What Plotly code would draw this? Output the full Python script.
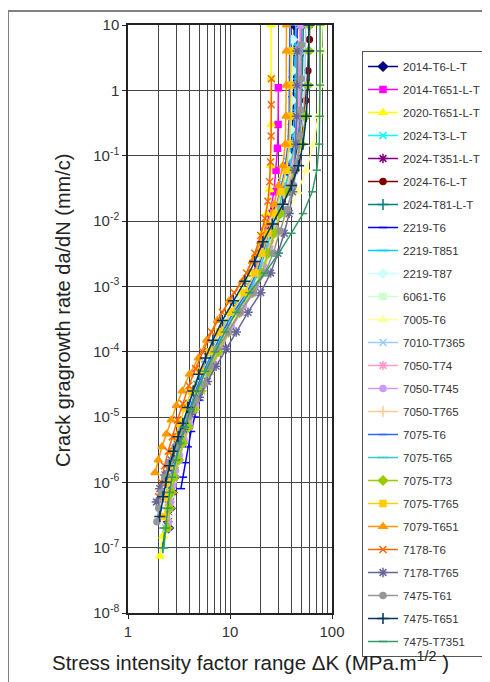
import plotly.graph_objects as go

# ---------------- data ----------------
series_names = ["2014-T6-L-T", "2014-T651-L-T", "2020-T651-L-T", "2024-T3-L-T", "2024-T351-L-T",
                "2024-T6-L-T", "2024-T81-L-T", "2219-T6", "2219-T851", "2219-T87", "6061-T6",
                "7005-T6", "7010-T7365", "7050-T74", "7050-T745", "7050-T765", "7075-T6",
                "7075-T65", "7075-T73", "7075-T765", "7079-T651", "7178-T6", "7178-T765",
                "7475-T61", "7475-T651", "7475-T7351"]

dK_2014_T6 = [2.5, 2.6, 2.72, 2.86, 3.1, 3.4, 3.75, 4.2, 4.8, 5.75, 7.1, 8.9, 11.5, 15.5, 19.2, 22, 24.8, 28, 32.5, 36.5, 40, 41.5, 42, 42.3, 42.5, 42.6]
da_2014_T6 = [2e-7, 4e-7, 7e-7, 1.2e-6, 2.2e-6, 4e-6, 7e-6, 1.3e-5, 2.5e-5, 5e-5, 1e-4, 2e-4, 4e-4, 8e-4, 1.6e-3, 3.2e-3, 6.5e-3, 1.3e-2, 2.8e-2, 6e-2, 0.15, 0.3, 0.8, 1.6, 4, 10]

dK_2014_T651 = [2.42, 2.52, 2.62, 2.76, 3.0, 3.3, 3.62, 4.05, 4.6, 5.4, 6.6, 8.2, 10.5, 14, 17, 19.5, 22, 24.5, 27, 28.3, 29.2, 29.6, 29.8]
da_2014_T651 = [2e-7, 4e-7, 7e-7, 1.2e-6, 2.2e-6, 4e-6, 7e-6, 1.3e-5, 2.5e-5, 5e-5, 1e-4, 2e-4, 4e-4, 8e-4, 1.6e-3, 3.2e-3, 7e-3, 1.3e-2, 2.8e-2, 6e-2, 0.13, 0.3, 1.1]

dK_2020_T651 = [2.06, 2.2, 2.32, 2.45, 2.6, 2.82, 3.1, 3.45, 3.85, 4.4, 5.2, 6.3, 7.8, 10, 13, 15.8, 18.3, 20.8, 23, 24.5, 25.1, 25.3, 25.3, 25.3]
da_2020_T651 = [7.4e-8, 1.5e-7, 3e-7, 6e-7, 1.1e-6, 2e-6, 4e-6, 7e-6, 1.3e-5, 2.5e-5, 5e-5, 1e-4, 2e-4, 4e-4, 8e-4, 1.6e-3, 3.2e-3, 6.5e-3, 1.3e-2, 3e-2, 7e-2, 0.3, 1.5, 10]

dK_2024_T3 = [2.35, 2.46, 2.57, 2.7, 2.95, 3.28, 3.65, 4.15, 4.8, 5.8, 7.2, 9.0, 11.6, 15.8, 19.8, 23, 26.5, 30.5, 35, 39.5, 43.5, 45.5, 46.5, 47]
da_2024_T3 = [2e-7, 4e-7, 7e-7, 1.2e-6, 2.2e-6, 4e-6, 7e-6, 1.3e-5, 2.5e-5, 5e-5, 1e-4, 2e-4, 4e-4, 8e-4, 1.6e-3, 3.2e-3, 6.5e-3, 1.3e-2, 2.8e-2, 6e-2, 0.15, 0.4, 1.2, 4]

dK_2024_T351 = [2.45, 2.55, 2.66, 2.8, 3.0, 3.3, 3.65, 4.15, 4.85, 5.9, 7.3, 9.2, 12, 16.5, 20, 22.5, 24, 27, 31.5, 36, 40, 44, 47, 49, 50]
da_2024_T351 = [2.5e-7, 5e-7, 9e-7, 1.5e-6, 2.5e-6, 4.5e-6, 8e-6, 1.5e-5, 3e-5, 6e-5, 1.2e-4, 2.4e-4, 5e-4, 1e-3, 2e-3, 4e-3, 7e-3, 1.4e-2, 3e-2, 7e-2, 0.16, 0.4, 1.2, 4, 10]

dK_2024_T6 = [2.5, 2.62, 2.74, 2.9, 3.12, 3.45, 3.85, 4.4, 5.2, 6.3, 7.9, 10, 13.2, 17.5, 21, 24.5, 28, 32.5, 38, 44, 50, 55, 58, 60, 60.5]
da_2024_T6 = [3e-7, 6e-7, 1e-6, 1.8e-6, 3e-6, 5.5e-6, 1e-5, 2e-5, 4e-5, 8e-5, 1.6e-4, 3.2e-4, 6.5e-4, 1.3e-3, 2.6e-3, 5e-3, 1e-2, 2e-2, 4.5e-2, 0.1, 0.25, 0.7, 2, 6, 10]

dK_2024_T81 = [2.2, 2.3, 2.42, 2.54, 2.68, 2.92, 3.22, 3.58, 4.05, 4.65, 5.6, 6.9, 8.6, 11.2, 15.2, 18.8, 21.8, 24.8, 28.5, 34, 40, 45.5, 49, 51, 52, 52.3]
da_2024_T81 = [1e-7, 2e-7, 4e-7, 7e-7, 1.2e-6, 2.2e-6, 4e-6, 7e-6, 1.3e-5, 2.5e-5, 5e-5, 1e-4, 2e-4, 4e-4, 8e-4, 1.6e-3, 3.2e-3, 6.5e-3, 1.3e-2, 2.8e-2, 6e-2, 0.15, 0.4, 1.2, 4, 10]

dK_2219_T6 = [3.3, 3.45, 3.62, 3.85, 4.15, 4.5, 5.0, 5.6, 6.5, 7.6, 9.0, 11.5, 15.5, 19.5, 22.5, 25.5, 29, 33.5, 38, 42, 44, 45, 45.3, 45.5]
da_2219_T6 = [8e-7, 1.2e-6, 2e-6, 3.5e-6, 6e-6, 1e-5, 1.8e-5, 3.2e-5, 6e-5, 1.1e-4, 2e-4, 4e-4, 8e-4, 1.6e-3, 3.2e-3, 6.5e-3, 1.3e-2, 2.8e-2, 6e-2, 0.15, 0.4, 1.2, 4, 10]

dK_2219_T851 = [2.4, 2.5, 2.62, 2.78, 3.0, 3.3, 3.7, 4.2, 4.9, 5.9, 7.3, 9.2, 12, 16.2, 19.8, 22.6, 25.5, 29, 33.5, 38, 41.5, 43, 43.8, 44, 44.1]
da_2219_T851 = [3e-7, 6e-7, 1e-6, 1.8e-6, 3.2e-6, 5.5e-6, 1e-5, 1.8e-5, 3.5e-5, 7e-5, 1.4e-4, 2.8e-4, 5.5e-4, 1.1e-3, 2.2e-3, 4.5e-3, 9e-3, 1.8e-2, 4e-2, 9e-2, 0.2, 0.5, 1.5, 5, 10]

dK_2219_T87 = [2.45, 2.56, 2.68, 2.84, 3.05, 3.38, 3.78, 4.35, 5.1, 6.2, 7.7, 9.8, 13, 17, 20.3, 23, 26, 29.5, 33.5, 37, 39.5, 40.5, 41, 41.2]
da_2219_T87 = [3e-7, 6e-7, 1e-6, 1.8e-6, 3e-6, 5.5e-6, 1e-5, 2e-5, 4e-5, 8e-5, 1.6e-4, 3.2e-4, 6.5e-4, 1.3e-3, 2.6e-3, 5e-3, 1e-2, 2e-2, 4.5e-2, 0.1, 0.25, 0.7, 2, 6]

dK_6061_T6 = [2.38, 2.49, 2.6, 2.74, 3.0, 3.32, 3.7, 4.2, 4.85, 5.8, 7.1, 8.8, 11.4, 15.4, 19, 21.8, 24.5, 27.8, 32, 35.8, 38.5, 39.5, 40, 40.2]
da_6061_T6 = [2e-7, 4e-7, 7e-7, 1.2e-6, 2.2e-6, 4e-6, 7e-6, 1.3e-5, 2.5e-5, 5e-5, 1e-4, 2e-4, 4e-4, 8e-4, 1.6e-3, 3.2e-3, 6.5e-3, 1.3e-2, 2.8e-2, 6e-2, 0.15, 0.4, 1.2, 4]

dK_7005_T6 = [2.4, 2.5, 2.62, 2.76, 3.02, 3.35, 3.72, 4.22, 4.9, 5.9, 7.3, 9.2, 12, 16.5, 21, 25, 30, 37, 46, 56, 66, 73, 77, 79, 80]
da_7005_T6 = [2e-7, 4e-7, 7e-7, 1.2e-6, 2.2e-6, 4e-6, 7e-6, 1.3e-5, 2.5e-5, 5e-5, 1e-4, 2e-4, 4e-4, 8e-4, 1.6e-3, 3.2e-3, 6.5e-3, 1.3e-2, 2.8e-2, 6e-2, 0.15, 0.4, 1.2, 4, 10]

dK_7010_T7365 = [2.36, 2.47, 2.58, 2.73, 3.0, 3.34, 3.76, 4.3, 5.0, 6.05, 7.5, 9.5, 12.4, 16.5, 20.5, 23.5, 27, 31, 36, 42, 48, 52, 54, 55, 55.3]
da_7010_T7365 = [2e-7, 4e-7, 7e-7, 1.2e-6, 2.2e-6, 4e-6, 7e-6, 1.3e-5, 2.5e-5, 5e-5, 1e-4, 2e-4, 4e-4, 8e-4, 1.6e-3, 3.2e-3, 6.5e-3, 1.3e-2, 2.8e-2, 6e-2, 0.15, 0.4, 1.2, 4, 10]

dK_7050_T74 = [2.45, 2.57, 2.7, 2.86, 3.15, 3.52, 3.98, 4.55, 5.3, 6.4, 7.9, 9.9, 12.8, 17, 21, 24, 27.5, 31.5, 36, 40.5, 44.5, 46.5, 47.5, 48, 48.2]
da_7050_T74 = [2e-7, 4e-7, 7e-7, 1.2e-6, 2.2e-6, 4e-6, 7e-6, 1.3e-5, 2.5e-5, 5e-5, 1e-4, 2e-4, 4e-4, 8e-4, 1.6e-3, 3.2e-3, 6.5e-3, 1.3e-2, 2.8e-2, 6e-2, 0.15, 0.4, 1.2, 4, 10]

dK_7050_T745 = [2.5, 2.62, 2.76, 2.92, 3.2, 3.55, 4.0, 4.6, 5.4, 6.6, 8.2, 10.3, 13.5, 17.8, 21.5, 24.3, 27.5, 31.5, 36.5, 41.5, 45.5, 48, 49, 49.5, 49.7]
da_7050_T745 = [2.5e-7, 5e-7, 9e-7, 1.5e-6, 2.6e-6, 4.5e-6, 8e-6, 1.5e-5, 3e-5, 6e-5, 1.2e-4, 2.4e-4, 5e-4, 1e-3, 2e-3, 4e-3, 8e-3, 1.6e-2, 3.5e-2, 8e-2, 0.2, 0.5, 1.5, 5, 10]

dK_7050_T765 = [2.4, 2.52, 2.64, 2.8, 3.06, 3.4, 3.82, 4.35, 5.05, 6.1, 7.55, 9.5, 12.3, 16.4, 20.3, 23.3, 26.5, 30.5, 35, 39.5, 43, 44.5, 45, 45.2]
da_7050_T765 = [2e-7, 4e-7, 7e-7, 1.2e-6, 2.2e-6, 4e-6, 7e-6, 1.3e-5, 2.5e-5, 5e-5, 1e-4, 2e-4, 4e-4, 8e-4, 1.6e-3, 3.2e-3, 6.5e-3, 1.3e-2, 2.8e-2, 6e-2, 0.15, 0.4, 1.2, 4]

dK_7075_T6 = [2.32, 2.42, 2.53, 2.66, 2.9, 3.2, 3.55, 4.0, 4.6, 5.5, 6.75, 8.4, 10.8, 14.6, 18.2, 21, 23.8, 27, 31, 34.5, 37, 38, 38.3, 38.5, 38.6]
da_7075_T6 = [2e-7, 4e-7, 7e-7, 1.2e-6, 2.2e-6, 4e-6, 7e-6, 1.3e-5, 2.5e-5, 5e-5, 1e-4, 2e-4, 4e-4, 8e-4, 1.6e-3, 3.2e-3, 6.5e-3, 1.3e-2, 2.8e-2, 6e-2, 0.15, 0.4, 1.2, 4, 10]

dK_7075_T65 = [2.34, 2.45, 2.56, 2.7, 2.95, 3.26, 3.64, 4.12, 4.75, 5.7, 7.0, 8.8, 11.3, 15.2, 19, 22, 25, 28.8, 33.5, 38.5, 43, 45, 46, 46.3]
da_7075_T65 = [2e-7, 4e-7, 7e-7, 1.2e-6, 2.2e-6, 4e-6, 7e-6, 1.3e-5, 2.5e-5, 5e-5, 1e-4, 2e-4, 4e-4, 8e-4, 1.6e-3, 3.2e-3, 6.5e-3, 1.3e-2, 2.8e-2, 6e-2, 0.15, 0.4, 1.2, 4]

dK_7075_T73 = [2.42, 2.54, 2.66, 2.82, 3.1, 3.45, 3.88, 4.42, 5.15, 6.2, 7.65, 9.6, 12.4, 16.5, 20.5, 23.5, 27, 31, 36.5, 43, 50, 55, 58, 59.5, 60]
da_7075_T73 = [2e-7, 4e-7, 7e-7, 1.2e-6, 2.2e-6, 4e-6, 7e-6, 1.3e-5, 2.5e-5, 5e-5, 1e-4, 2e-4, 4e-4, 8e-4, 1.6e-3, 3.2e-3, 6.5e-3, 1.3e-2, 2.8e-2, 6e-2, 0.15, 0.4, 1.2, 4, 10]

dK_7075_T765 = [2.3, 2.38, 2.46, 2.56, 2.7, 2.92, 3.2, 3.6, 4.2, 5.1, 6.3, 7.9, 10.2, 13.8, 17.5, 20.5, 23.5, 27, 31.5, 35.5, 38, 39, 39.5, 39.7]
da_7075_T765 = [3e-7, 6e-7, 1e-6, 1.8e-6, 3e-6, 5e-6, 8e-6, 1.4e-5, 2.5e-5, 5e-5, 1e-4, 2e-4, 4e-4, 8e-4, 1.6e-3, 3.2e-3, 6.5e-3, 1.3e-2, 2.8e-2, 6e-2, 0.15, 0.4, 1.2, 4]

dK_7079_T651 = [1.84, 1.98, 2.15, 2.38, 2.65, 2.98, 3.4, 4.0, 4.9, 5.9, 7.5, 9.8, 13.2, 16.5, 20, 23.5, 27, 30, 33, 34.8, 35.4, 35.6, 35.7, 35.8]
da_7079_T651 = [1.4e-6, 2.2e-6, 3.5e-6, 5.5e-6, 9e-6, 1.5e-5, 2.5e-5, 4.5e-5, 8e-5, 1.5e-4, 3e-4, 6e-4, 1.2e-3, 2.4e-3, 4.8e-3, 9e-3, 1.8e-2, 3.5e-2, 7e-2, 0.15, 0.4, 1.2, 4, 10]

dK_7178_T6 = [2.0, 2.12, 2.28, 2.48, 2.72, 3.05, 3.45, 3.95, 4.6, 5.4, 6.6, 8.4, 11, 14.5, 17.5, 20, 22, 23.5, 24.5, 25, 25.3, 25.4, 25.5]
da_7178_T6 = [6e-7, 1e-6, 1.8e-6, 3e-6, 5e-6, 9e-6, 1.6e-5, 3e-5, 5.5e-5, 1e-4, 2e-4, 4e-4, 8e-4, 1.6e-3, 3.2e-3, 6e-3, 1.1e-2, 2e-2, 4e-2, 8e-2, 0.2, 0.6, 1.5]

dK_7178_T765 = [1.9, 2.05, 2.3, 2.65, 3.05, 3.5, 4.1, 5.0, 6.0, 7.3, 9.2, 11.5, 15, 20, 25, 29.5, 34, 38, 41, 43, 44.3, 45, 45.3, 45.5]
da_7178_T765 = [5e-7, 8e-7, 1.3e-6, 2.2e-6, 3.8e-6, 6.5e-6, 1.1e-5, 2e-5, 3.5e-5, 6e-5, 1.1e-4, 2e-4, 4e-4, 8e-4, 1.6e-3, 3.2e-3, 6.5e-3, 1.3e-2, 2.8e-2, 6e-2, 0.15, 0.4, 1.2, 4]

dK_7475_T61 = [1.92, 2.0, 2.12, 2.3, 2.55, 2.9, 3.35, 3.9, 4.65, 5.6, 6.4, 7.4, 9.6, 12.5, 17, 22, 26.5, 31, 36, 42, 46.5, 48.5, 49.5, 50, 50.2]
da_7475_T61 = [2.5e-7, 4e-7, 7e-7, 1.2e-6, 2e-6, 3.5e-6, 6e-6, 1e-5, 1.8e-5, 3.2e-5, 6e-5, 1.1e-4, 2e-4, 4e-4, 8e-4, 1.6e-3, 3.2e-3, 7e-3, 1.5e-2, 3.5e-2, 8e-2, 0.2, 0.5, 1.5, 5]

dK_7475_T651 = [2.05, 2.2, 2.35, 2.55, 2.8, 3.1, 3.45, 3.85, 4.35, 4.95, 5.75, 6.8, 8.4, 10.8, 14, 17.5, 21, 26, 33, 40, 47, 52, 56, 58, 59, 59.5]
da_7475_T651 = [3e-7, 6e-7, 1e-6, 1.8e-6, 3e-6, 5e-6, 8e-6, 1.4e-5, 2.5e-5, 4.5e-5, 8e-5, 1.5e-4, 3e-4, 6e-4, 1.2e-3, 2.4e-3, 4.8e-3, 9e-3, 1.8e-2, 3.5e-2, 7e-2, 0.15, 0.4, 1.2, 4, 10]

dK_7475_T7351 = [2.25, 2.34, 2.45, 2.56, 2.7, 2.95, 3.25, 3.62, 4.1, 4.75, 5.75, 7.1, 8.9, 11.5, 15.5, 22, 30, 40, 52, 64, 71, 75, 76, 76.2, 76.3, 76.4]
da_7475_T7351 = [1e-7, 2e-7, 4e-7, 7e-7, 1.2e-6, 2.2e-6, 4e-6, 7e-6, 1.3e-5, 2.5e-5, 5e-5, 1e-4, 2e-4, 4e-4, 8e-4, 1.6e-3, 3.2e-3, 6.5e-3, 1.3e-2, 2.8e-2, 6e-2, 0.15, 0.4, 1.2, 4, 10]

x_tick_vals = [1, 10, 100]
x_tick_text = ["1", "10", "100"]
y_tick_vals = [1e-8, 1e-7, 1e-6, 1e-5, 1e-4, 1e-3, 1e-2, 1e-1, 1, 10]
y_tick_text = ["10<sup>-8</sup>", "10<sup>-7</sup>", "10<sup>-6</sup>", "10<sup>-5</sup>", "10<sup>-4</sup>",
               "10<sup>-3</sup>", "10<sup>-2</sup>", "10<sup>-1</sup>", "1", "10"]
x_minor_vals = [2, 3, 4, 5, 6, 7, 8, 9, 20, 30, 40, 50, 60, 70, 80, 90]

# ---------------- styling ----------------
series_dk = [dK_2014_T6, dK_2014_T651, dK_2020_T651, dK_2024_T3, dK_2024_T351, dK_2024_T6, dK_2024_T81,
             dK_2219_T6, dK_2219_T851, dK_2219_T87, dK_6061_T6, dK_7005_T6, dK_7010_T7365, dK_7050_T74,
             dK_7050_T745, dK_7050_T765, dK_7075_T6, dK_7075_T65, dK_7075_T73, dK_7075_T765, dK_7079_T651,
             dK_7178_T6, dK_7178_T765, dK_7475_T61, dK_7475_T651, dK_7475_T7351]
series_da = [da_2014_T6, da_2014_T651, da_2020_T651, da_2024_T3, da_2024_T351, da_2024_T6, da_2024_T81,
             da_2219_T6, da_2219_T851, da_2219_T87, da_6061_T6, da_7005_T6, da_7010_T7365, da_7050_T74,
             da_7050_T745, da_7050_T765, da_7075_T6, da_7075_T65, da_7075_T73, da_7075_T765, da_7079_T651,
             da_7178_T6, da_7178_T765, da_7475_T61, da_7475_T651, da_7475_T7351]

colors = ["#000080", "#FF00FF", "#FFFF00", "#00FFFF", "#800080", "#800000", "#008080", "#0000FF",
          "#00CCFF", "#CCFFFF", "#CCFFCC", "#FFFF99", "#99CCFF", "#FF99CC", "#CC99FF", "#FFCC99",
          "#3366FF", "#33CCCC", "#99CC00", "#FFCC00", "#FF9900", "#FF6600", "#666699", "#969696",
          "#003366", "#339966"]
symbol_cycle = [("diamond", 7), ("square", 6), ("triangle-up", 7), ("x-thin-open", 7),
                ("asterisk-open", 8), ("circle", 6), ("cross-thin-open", 8),
                ("line-ew-open", 6), ("line-ew-open", 8)]

FONT = "Liberation Sans, Arial, sans-serif"

fig = go.Figure()
for i, name in enumerate(series_names):
    sym, sz = symbol_cycle[i % len(symbol_cycle)]
    c = colors[i]
    fig.add_trace(go.Scatter(
        x=series_dk[i], y=series_da[i], name=name, mode="lines+markers",
        legendgroup=name,
        line=dict(color=c, width=1.5),
        marker=dict(symbol=sym, size=sz, color=c, line=dict(color=c, width=1.5)),
    ))

# the page body has an 8px margin, so the figure origin sits at (8, 8) of the window
OFF = 8
W, H = 490 - OFF, 682 - OFF
L, R, T, B = 128 - OFF, 332 - OFF, 25 - OFF, 613 - OFF


def px_x(p):
    return (p - OFF - L) / (R - L)


def px_y(p):
    return (B - (p - OFF)) / (B - T)


fig.update_layout(
    width=W, height=H,
    margin=dict(l=L, r=W - R, t=T, b=H - B, autoexpand=False),
    paper_bgcolor="white", plot_bgcolor="white",
    font=dict(family=FONT, color="#222"),
    showlegend=True,
    legend=dict(
        x=px_x(362), y=px_y(51), xanchor="left", yanchor="top",
        bgcolor="white", bordercolor="#555", borderwidth=1,
        font=dict(family=FONT, size=11.5, color="#333"),
        traceorder="grouped", tracegroupgap=4, maxheight=660,
    ),
    xaxis=dict(
        type="log", range=[0, 2],
        tickvals=x_tick_vals, ticktext=x_tick_text,
        tickfont=dict(family=FONT, size=15, color="#333"),
        showgrid=True, gridcolor="#444", gridwidth=1,
        minor=dict(tickvals=x_minor_vals, showgrid=True, gridcolor="#444", gridwidth=1, ticks=""),
        showline=True, linecolor="#222", linewidth=1.5, mirror=True,
        ticks="outside", ticklen=4, tickcolor="#222",
        zeroline=False,
    ),
    yaxis=dict(
        type="log", range=[-8, 1],
        tickvals=y_tick_vals, ticktext=y_tick_text,
        tickfont=dict(family=FONT, size=15, color="#333"),
        showgrid=True, gridcolor="#444", gridwidth=1,
        showline=True, linecolor="#222", linewidth=1.5, mirror=True,
        ticks="outside", ticklen=4, tickcolor="#222",
        zeroline=False,
    ),
    annotations=[
        dict(text="Crack gragrowth rate da/dN (mm/c)", textangle=-90,
             x=px_x(63), y=px_y(311), xref="paper", yref="paper",
             xanchor="center", yanchor="middle",
             showarrow=False, font=dict(family=FONT, size=20, color="#222")),
        dict(text="Stress intensity factor range \u0394K (MPa.m<sup>1/2</sup> )",
             x=px_x(250), y=px_y(661), xref="paper", yref="paper",
             xanchor="center", yanchor="middle",
             showarrow=False, font=dict(family=FONT, size=20.5, color="#222")),
    ],
    shapes=[
        dict(type="line", xref="paper", yref="paper", x0=px_x(8), x1=px_x(492), y0=px_y(11), y1=px_y(11),
             line=dict(color="#808080", width=2)),
        dict(type="line", xref="paper", yref="paper", x0=px_x(8), x1=px_x(8), y0=px_y(11), y1=px_y(684),
             line=dict(color="#808080", width=2)),
    ],
)

fig.write_html("out.html")
